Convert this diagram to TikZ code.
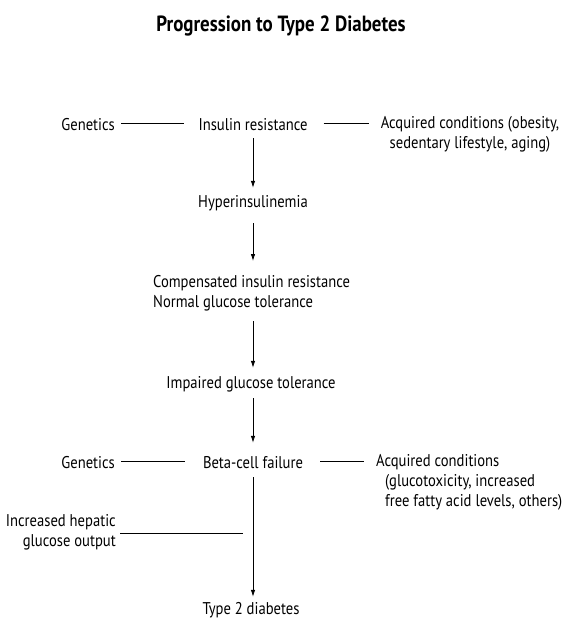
\documentclass[tikz,border=0pt]{standalone}
\usepackage{fontspec}
\setmainfont[FakeStretch=0.86]{PT Sans}
\usetikzlibrary{arrows.meta,positioning}

\begin{document}
\begin{tikzpicture}[x=1pt,y=-1pt,
  lbl/.style={inner sep=0pt,text height=12pt,text depth=4pt,font=\fontsize{17}{20}\selectfont},
  flow/.style={-{Latex[length=7pt,width=4.5pt]},line width=0.8pt},
  link/.style={line width=0.8pt}]
\useasboundingbox (0,0) rectangle (563,619);
%%%%% title
\node[inner sep=0pt,anchor=base,font=\bfseries\fontsize{22}{26}\selectfont] (title) at (281,31.5) {Progression to Type 2 Diabetes};

%%%%% first row
\node[lbl,anchor=base east] (gen1) at (115,130) {Genetics};
\node[lbl,anchor=base] (ir) at (253,130) {Insulin resistance};
\node[lbl,anchor=north,align=center,text height=,text depth=] (acq1) at (470,116) {Acquired conditions (obesity,\\sedentary lifestyle, aging)};
\draw[link,shorten <=6pt,shorten >=14pt] ([yshift=6.5pt]gen1.base east) -- ([yshift=6.5pt]ir.base west);
\draw[link,shorten <=16pt,shorten >=12pt] ([yshift=6.5pt]ir.base east) -- ([yshift=6.5pt]ir.base east -| acq1.west);

%%%%% main chain
\node[lbl,anchor=base] (hyp) at (253,207) {Hyperinsulinemia};
\node[lbl,anchor=north west,align=left,text height=,text depth=] (comp) at (153,275) {Compensated insulin resistance\\Normal glucose tolerance};
\node[lbl,anchor=base] (igt) at (251,388) {Impaired glucose tolerance};
\node[lbl,anchor=base] (beta) at (253,468) {Beta-cell failure};
\node[lbl,anchor=base] (t2d) at (251,614) {Type 2 diabetes};

\draw[flow,shorten <=4pt,shorten >=7pt] (ir.south -| 253,0) -- (hyp.north -| 253,0);
\draw[flow,shorten <=12pt,shorten >=14pt] (hyp.south -| 253,0) -- (hyp.south |- comp.north);
\draw[flow,shorten <=10pt,shorten >=8pt] (comp.south -| hyp.south) -- (igt.north -| hyp.south);
\draw[flow,shorten <=6pt,shorten >=13pt] (igt.south -| hyp.south) -- (beta.north -| hyp.south);
\draw[flow,shorten <=5pt,shorten >=5pt] (beta.south -| hyp.south) -- (t2d.north -| hyp.south);

%%%%% second row
\node[lbl,anchor=base east] (gen2) at (115,468) {Genetics};
\node[lbl,anchor=north west,align=left,text height=,text depth=] (acq2) at (376,454) {Acquired conditions\\\hspace*{9pt}(glucotoxicity, increased\\\hspace*{9pt}free fatty acid levels, others)};
\draw[link,shorten <=6pt,shorten >=18pt] ([yshift=6.5pt]gen2.base east) -- ([yshift=6.5pt]beta.base west);
\draw[link,shorten <=17pt,shorten >=12pt] ([yshift=6.5pt]beta.base east) -- ([yshift=6.5pt]beta.base east -| acq2.west);

%%%%% hepatic output
\node[lbl,anchor=north east,align=right,text height=,text depth=] (hep) at (116,514) {Increased hepatic\\glucose output};
\coordinate (hepend) at (243,533);
\draw[link,shorten <=4pt] (hep.east |- hepend) -- (hepend);
\end{tikzpicture}
\end{document}
